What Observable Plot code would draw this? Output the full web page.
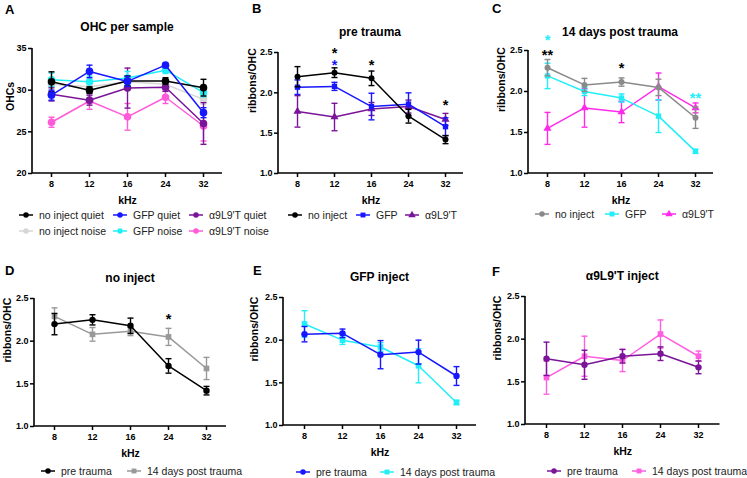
<!DOCTYPE html>
<html><head><meta charset="utf-8">
<script src="https://cdn.jsdelivr.net/npm/d3@7"></script>
<script src="https://cdn.jsdelivr.net/npm/@observablehq/plot@0.6"></script>
<style>
body{margin:0;background:#fff;font-family:"Liberation Sans",Arial,sans-serif;}
#root{position:relative;width:747px;height:478px;overflow:hidden;background:#fff;}
.abs{position:absolute;white-space:nowrap;}
.letter{font-weight:bold;font-size:13px;transform:translateY(-50%);}
.title{font-weight:bold;font-size:12px;transform:translate(-50%,-50%);}
.leg{font-size:10.5px;color:#222;display:flex;align-items:center;transform:translateY(-50%);}
.leg svg{margin-right:6px;}
</style></head><body><div id="root"></div><script>
// ---------- data ----------
const freqs = ["8", "12", "16", "24", "32"];

// Panel A: OHC per sample (mean, SEM)
const ohcNoInjectQuiet    = [31.0, 30.0, 31.1, 31.1, 30.3];
const ohcNoInjectQuietSem = [1.2, 0.4, 0.6, 0.4, 1.0];
const ohcNoInjectNoise    = [30.7, 30.4, 31.0, 30.7, 28.9];
const ohcNoInjectNoiseSem = [0.5, 0.5, 0.5, 0.5, 0.6];
const ohcGFPQuiet         = [29.4, 32.25, 31.05, 33.0, 27.3];
const ohcGFPQuietSem      = [0.6, 0.75, 0.6, 0.2, 0.6];
const ohcGFPNoise         = [31.25, 31.0, 31.45, 32.4, 29.7];
const ohcGFPNoiseSem      = [0.8, 0.7, 0.8, 0.4, 0.5];
const ohcA9Quiet          = [29.5, 28.8, 30.25, 30.35, 26.0];
const ohcA9QuietSem       = [0.8, 0.6, 2.4, 0.5, 2.5];
const ohcA9Noise          = [26.15, 28.7, 26.8, 29.15, 25.7];
const ohcA9NoiseSem       = [0.6, 1.0, 1.6, 0.75, 1.8];

// ribbons / OHC, pre trauma
const preNoInject    = [2.20, 2.25, 2.18, 1.71, 1.42];
const preNoInjectSem = [0.125, 0.06, 0.09, 0.085, 0.05];
const preGFP         = [2.07, 2.08, 1.83, 1.86, 1.58];
const preGFPSem      = [0.09, 0.05, 0.165, 0.14, 0.11];
const preA9          = [1.77, 1.70, 1.80, 1.83, 1.67];
const preA9Sem       = [0.195, 0.17, 0.08, 0.08, 0.075];
// ribbons / OHC, 14 days post trauma
const postNoInject    = [2.29, 2.08, 2.115, 2.05, 1.68];
const postNoInjectSem = [0.10, 0.08, 0.05, 0.10, 0.13];
const postGFP         = [2.19, 2.00, 1.92, 1.70, 1.27];
const postGFPSem      = [0.155, 0.05, 0.05, 0.20, 0.025];
const postA9          = [1.55, 1.80, 1.75, 2.06, 1.80];
const postA9Sem       = [0.195, 0.235, 0.13, 0.165, 0.06];

// significance stars
const starsBx = ["12", "12", "16", "32"];
const starsBy = [2.535, 2.395, 2.385, 1.90];
const starsBt = ["*", "*", "*", "*"];
const starsBc = ["black", "blue", "black", "black"];
const starsCx = ["8", "8", "16", "32"];
const starsCy = [2.67, 2.49, 2.33, 1.97];
const starsCt = ["*", "**", "*", "**"];
const starsCc = ["cyan", "black", "black", "cyan"];
const starsDx = ["24"];
const starsDy = [2.30];
const starsDt = ["*"];
const starsDc = ["black"];

const ohcTicks = [20, 25, 30, 35];
const ribTicks = [1.0, 1.5, 2.0, 2.5];

// ---------- styles ----------
const C = {
  black: "#000000", gray: "#8a8a8a", gray2: "#999999", light: "#d6d6d6",
  blue: "#1717ff", cyan: "#22eef8", purple: "#7a1599",
  pinkA: "#ff5ad9", magenta: "#ff2aea", pinkF: "#ff5ee0"
};
const FONT = '"Liberation Sans", Arial, sans-serif';
const capSymbol = { draw(ctx, size) { const w = Math.sqrt(size / Math.PI); ctx.moveTo(-w, 0); ctx.lineTo(w, 0); } };
const root = document.getElementById("root");

function rows(vals, sems) { return freqs.map((f, i) => ({ f, v: vals[i], e: sems[i] })); }
function starRows(xs, ys, ts, cs) { return xs.map((f, i) => ({ f, y: ys[i], t: ts[i], c: cs[i] })); }

const axisFrame = (index, scales, values, dims) => {
  const { width, height, marginLeft: l, marginRight: r, marginTop: t, marginBottom: b } = dims;
  return d3.create("svg:path")
    .attr("d", `M${l},${t}V${height - b}H${width - r}`)
    .attr("fill", "none").attr("stroke", "black").attr("stroke-width", 1.6).node();
};

function panel(cfg) {
  const [fl, fr, ft, fb] = cfg.frame;
  const mL = Math.min(fl, 40), mR = 8, mT = 30, mB = 36;
  const width = fr - fl + mL + mR, height = fb - ft + mT + mB;
  const marks = [axisFrame];
  for (const s of cfg.series) {
    const d = rows(s.vals, s.sems);
    const sw = s.sw ?? 1.4;
    marks.push(
      Plot.ruleX(d, { x: "f", y1: (p) => p.v - p.e, y2: (p) => p.v + p.e, stroke: s.color, strokeWidth: sw }),
      Plot.dot(d, { x: "f", y: (p) => p.v + p.e, symbol: capSymbol, r: 3, stroke: s.color, strokeWidth: sw }),
      Plot.dot(d, { x: "f", y: (p) => p.v - p.e, symbol: capSymbol, r: 3, stroke: s.color, strokeWidth: sw }),
      Plot.line(d, { x: "f", y: "v", stroke: s.color, strokeWidth: 1.5 }),
      Plot.dot(d, { x: "f", y: "v", symbol: s.symbol, r: s.r ?? cfg.r, fill: s.color, stroke: "none" })
    );
  }
  if (cfg.stars) {
    const sr = starRows(...cfg.stars);
    for (const col of [...new Set(sr.map((d) => d.c))]) {
      marks.push(Plot.text(sr.filter((d) => d.c === col), {
        x: "f", y: "y", text: "t", fill: C[col], fontSize: 14.5, fontWeight: "bold", lineAnchor: "middle", dy: 4
      }));
    }
  }
  marks.push(
    Plot.axisX({ tickSize: 4, tickPadding: 3, fontSize: 9, fontWeight: "bold", strokeWidth: 1.5, label: null, fill: "black" }),
    Plot.axisY({ ticks: cfg.yTicks, tickFormat: cfg.yFmt, tickSize: 4, tickPadding: 2, fontSize: 9, fontWeight: "bold", strokeWidth: 1.5, label: null, fill: "black" }),
    Plot.text([cfg.yLabel], { frameAnchor: "left", rotate: -90, dx: cfg.labelDx, text: (d) => d, fontSize: 10.5, fontWeight: "bold", fill: "black", lineAnchor: "middle" }),
    Plot.text(["kHz"], { frameAnchor: "bottom", dy: 27, text: (d) => d, fontSize: 10.5, fontWeight: "bold", fill: "black", lineAnchor: "middle" })
  );
  const svg = Plot.plot({
    width, height, marginLeft: mL, marginRight: mR, marginTop: mT, marginBottom: mB,
    x: { type: "point", domain: freqs, padding: 0.5, axis: null },
    y: { domain: cfg.yDomain, axis: null },
    style: { background: "transparent", overflow: "visible", fontFamily: FONT, color: "black" },
    marks
  });
  const wrap = document.createElement("div");
  wrap.className = "abs";
  wrap.style.left = (fl - mL) + "px";
  wrap.style.top = (ft - mT) + "px";
  wrap.appendChild(svg);
  root.appendChild(wrap);

  // title and panel letter
  const t = document.createElement("div");
  t.className = "abs title"; t.textContent = cfg.title;
  t.style.left = ((fl + fr) / 2) + "px"; t.style.top = cfg.titleY + "px";
  root.appendChild(t);
  const L = document.createElement("div");
  L.className = "abs letter"; L.textContent = cfg.letter;
  L.style.left = cfg.letterPos[0] + "px"; L.style.top = cfg.letterPos[1] + "px";
  root.appendChild(L);
}

function legendItem(x, y, color, symbol, label) {
  const el = document.createElement("div");
  el.className = "abs leg";
  el.style.left = x + "px"; el.style.top = y + "px";
  const s = d3.create("svg").attr("width", 14).attr("height", 10);
  s.append("line").attr("x1", 0).attr("x2", 14).attr("y1", 5).attr("y2", 5).attr("stroke", color).attr("stroke-width", 1.5);
  s.append("path").attr("transform", "translate(7,5)").attr("d", d3.symbol(symbol, 24)()).attr("fill", color);
  el.appendChild(s.node());
  const sp = document.createElement("span"); sp.textContent = label;
  el.appendChild(sp);
  root.appendChild(el);
}

// ---------- panels ----------
panel({
  letter: "A", letterPos: [5, 9], title: "OHC per sample", titleY: 27,
  frame: [32, 222, 48, 173], yDomain: [20, 35], yTicks: ohcTicks, yFmt: (d) => d, yLabel: "OHCs", labelDx: -22, r: 3.8,
  series: [
    { vals: ohcNoInjectNoise, sems: ohcNoInjectNoiseSem, color: C.light, symbol: "circle" },
    { vals: ohcA9Noise, sems: ohcA9NoiseSem, color: C.pinkA, symbol: "circle" },
    { vals: ohcA9Quiet, sems: ohcA9QuietSem, color: C.purple, symbol: "circle" },
    { vals: ohcGFPNoise, sems: ohcGFPNoiseSem, color: C.cyan, symbol: "circle" },
    { vals: ohcNoInjectQuiet, sems: ohcNoInjectQuietSem, color: C.black, symbol: "circle" },
    { vals: ohcGFPQuiet, sems: ohcGFPQuietSem, color: C.blue, symbol: "circle" }
  ]
});
panel({
  letter: "B", letterPos: [252, 8], title: "pre trauma", titleY: 32,
  frame: [277.5, 462.5, 52, 173], yDomain: [1, 2.5], yTicks: ribTicks, yFmt: ".1f", yLabel: "ribbons/OHC", labelDx: -26, r: 3,
  series: [
    { vals: preA9, sems: preA9Sem, color: C.purple, symbol: "triangle" },
    { vals: preGFP, sems: preGFPSem, color: C.blue, symbol: "square" },
    { vals: preNoInject, sems: preNoInjectSem, color: C.black, symbol: "circle" }
  ],
  stars: [starsBx, starsBy, starsBt, starsBc]
});
panel({
  letter: "C", letterPos: [492, 8], title: "14 days post trauma", titleY: 32,
  frame: [527.5, 712.5, 50, 173], yDomain: [1, 2.5], yTicks: ribTicks, yFmt: ".1f", yLabel: "ribbons/OHC", labelDx: -27, r: 3,
  series: [
    { vals: postA9, sems: postA9Sem, color: C.magenta, symbol: "triangle" },
    { vals: postGFP, sems: postGFPSem, color: C.cyan, symbol: "square" },
    { vals: postNoInject, sems: postNoInjectSem, color: C.gray, symbol: "circle" }
  ],
  stars: [starsCx, starsCy, starsCt, starsCc]
});
panel({
  letter: "D", letterPos: [5, 270], title: "no inject", titleY: 278,
  frame: [34, 226, 298, 426], yDomain: [1, 2.5], yTicks: ribTicks, yFmt: ".1f", yLabel: "ribbons/OHC", labelDx: -27, r: 3.2,
  series: [
    { vals: postNoInject, sems: postNoInjectSem, color: C.gray2, symbol: "square" },
    { vals: preNoInject, sems: preNoInjectSem, color: C.black, symbol: "circle" }
  ],
  stars: [starsDx, starsDy, starsDt, starsDc]
});
panel({
  letter: "E", letterPos: [253, 270], title: "GFP inject", titleY: 277,
  frame: [283, 476, 297, 425], yDomain: [1, 2.5], yTicks: ribTicks, yFmt: ".1f", yLabel: "ribbons/OHC", labelDx: -29, r: 3.2,
  series: [
    { vals: postGFP, sems: postGFPSem, color: C.cyan, symbol: "square" },
    { vals: preGFP, sems: preGFPSem, color: C.blue, symbol: "circle" }
  ]
});
panel({
  letter: "F", letterPos: [492, 271], title: "α9L9'T inject", titleY: 276,
  frame: [525, 719.5, 296, 424], yDomain: [1, 2.5], yTicks: ribTicks, yFmt: ".1f", yLabel: "ribbons/OHC", labelDx: -28, r: 3.2,
  series: [
    { vals: postA9, sems: postA9Sem, color: C.pinkF, symbol: "square" },
    { vals: preA9, sems: preA9Sem, color: C.purple, symbol: "circle" }
  ]
});

// ---------- legends ----------
legendItem(19, 215, C.black, d3.symbolCircle, "no inject quiet");
legendItem(113, 215, C.blue, d3.symbolCircle, "GFP quiet");
legendItem(189, 215, C.purple, d3.symbolCircle, "α9L9'T quiet");
legendItem(19, 231, C.light, d3.symbolCircle, "no inject noise");
legendItem(113, 231, C.cyan, d3.symbolCircle, "GFP noise");
legendItem(189, 231, C.pinkA, d3.symbolCircle, "α9L9'T noise");

legendItem(288, 215, C.black, d3.symbolCircle, "no inject");
legendItem(356, 215, C.blue, d3.symbolSquare, "GFP");
legendItem(405, 215, C.purple, d3.symbolTriangle, "α9L9'T");

legendItem(535, 214, C.gray, d3.symbolCircle, "no inject");
legendItem(605, 214, C.cyan, d3.symbolSquare, "GFP");
legendItem(662, 214, C.magenta, d3.symbolTriangle, "α9L9'T");

legendItem(41, 471, C.black, d3.symbolCircle, "pre trauma");
legendItem(127, 471, C.gray2, d3.symbolSquare, "14 days post trauma");
legendItem(296, 472, C.blue, d3.symbolCircle, "pre trauma");
legendItem(380, 472, C.cyan, d3.symbolSquare, "14 days post trauma");
legendItem(547, 471, C.purple, d3.symbolCircle, "pre trauma");
legendItem(632, 471, C.pinkF, d3.symbolSquare, "14 days post trauma");
</script></body></html>
